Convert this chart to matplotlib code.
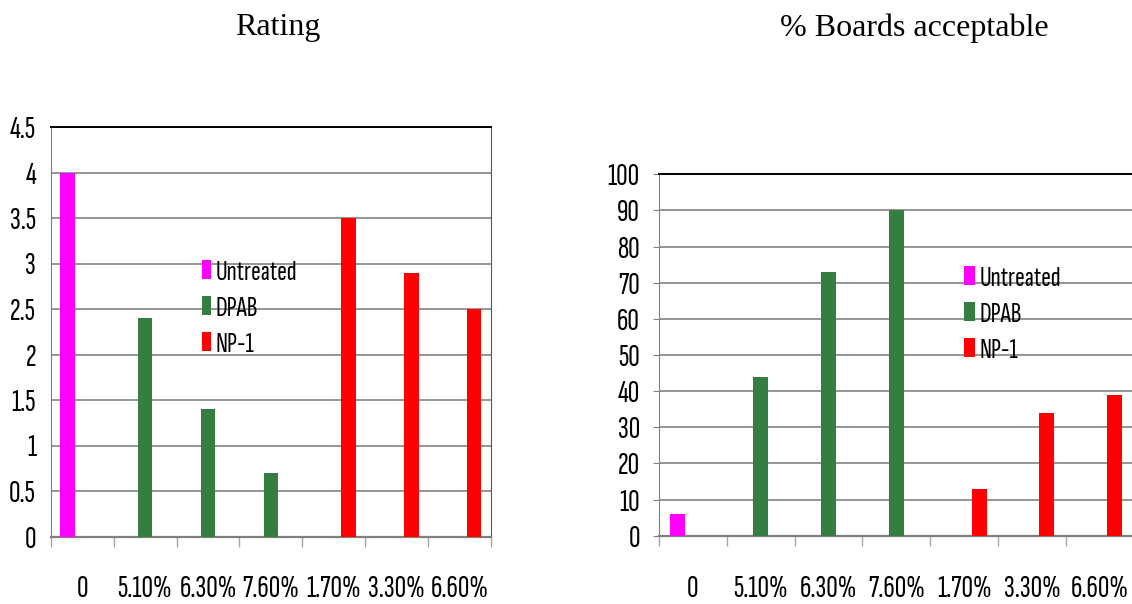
import numpy as np
import matplotlib
matplotlib.use("Agg")
import matplotlib.pyplot as plt
from matplotlib.patches import Patch

# ---- data -------------------------------------------------------------
categories = ["0", "5.10%", "6.30%", "7.60%", "1.70%", "3.30%", "6.60%"]
series_names = ["Untreated", "DPAB", "NP-1"]
series_colors = ["#FF00FF", "#367D42", "#FF0000"]

rating_untreated = [4.0, np.nan, np.nan, np.nan, np.nan, np.nan, np.nan]
rating_dpab = [np.nan, 2.4, 1.4, 0.7, np.nan, np.nan, np.nan]
rating_np1 = [np.nan, np.nan, np.nan, np.nan, 3.5, 2.9, 2.5]

boards_untreated = [6, np.nan, np.nan, np.nan, np.nan, np.nan, np.nan]
boards_dpab = [np.nan, 44, 73, 90, np.nan, np.nan, np.nan]
boards_np1 = [np.nan, np.nan, np.nan, np.nan, 13, 34, 39]

rating_ticks = [0, 0.5, 1, 1.5, 2, 2.5, 3, 3.5, 4, 4.5]
rating_ticklabels = ["0", "0.5", "1", "1.5", "2", "2.5", "3", "3.5", "4", "4.5"]
boards_ticks = list(range(0, 101, 10))
boards_ticklabels = [str(v) for v in boards_ticks]

# ---- style ------------------------------------------------------------
SANS = ["Sofia Sans Extra Condensed", "Archivo Narrow", "Liberation Sans", "DejaVu Sans"]
SERIF = ["Liberation Serif", "DejaVu Serif"]
GRID = "#8C8C8C"
AXIS = "#7F7F7F"

W, H = 1132, 604
fig = plt.figure(figsize=(W / 100, H / 100), dpi=100)
fig.patch.set_facecolor("white")


def draw_panel(rect, series, yticks, yticklabels, ymax, bar_w, ytick_len,
               ylab_pad, legend_anchor, handle_len, show_right):
    ax = fig.add_axes(rect)
    x = np.arange(len(categories))
    for i, (vals, color, name) in enumerate(zip(series, series_colors, series_names)):
        vals = np.asarray(vals, dtype=float)
        m = ~np.isnan(vals)
        ax.bar(x[m] + (i - 1) * bar_w, vals[m], width=bar_w, color=color,
               edgecolor="none", label=name, zorder=3)
    ax.set_xlim(-0.5, len(categories) - 0.5)
    ax.set_ylim(0, ymax)
    ax.set_yticks(yticks)
    ax.set_yticklabels(yticklabels, family=SANS, fontsize=23)
    ax.tick_params(axis="y", length=ytick_len, color=AXIS, pad=ylab_pad)
    ax.set_xticks(x)
    ax.set_xticklabels(categories, family=SANS, fontsize=23)
    ax.set_xticks(np.arange(-0.5, len(categories), 1.0), minor=True)
    ax.tick_params(axis="x", which="major", length=0, pad=28)
    ax.tick_params(axis="x", which="minor", length=7.5, width=1.0, color="#A6A6A6")
    ax.yaxis.grid(True, color=GRID, linewidth=1.3, zorder=0)
    ax.set_axisbelow(True)
    ax.spines["top"].set_color("black")
    ax.spines["top"].set_linewidth(1.4)
    ax.spines["left"].set_color(AXIS)
    ax.spines["bottom"].set_color(AXIS)
    ax.spines["bottom"].set_linewidth(1.6)
    ax.spines["right"].set_color("#595959")
    ax.spines["right"].set_visible(show_right)
    handles = [Patch(facecolor=c, edgecolor="none") for c in series_colors]
    ax.legend(handles, series_names, loc="upper left", bbox_to_anchor=legend_anchor,
              bbox_transform=fig.transFigure, frameon=False,
              prop={"family": SANS, "size": 21}, handlelength=handle_len,
              handleheight=0.6, handletextpad=0.15, labelspacing=0.4,
              borderpad=0, borderaxespad=0)
    return ax


left = draw_panel([50.7 / W, 1 - 536.5 / H, (491 - 50.7) / W, (536.5 - 127) / H],
                  [rating_untreated, rating_dpab, rating_np1],
                  rating_ticks, rating_ticklabels, 4.5, 0.232, 0, 10.5,
                  (201.7 / W, 1 - 260 / H), 0.32, True)
right = draw_panel([659 / W, 1 - 535.7 / H, (1133.6 - 659) / W, (535.7 - 174.3) / H],
                   [boards_untreated, boards_dpab, boards_np1],
                   boards_ticks, boards_ticklabels, 100, 0.222, 4.3, 9.5,
                   (964 / W, 1 - 266 / H), 0.38, False)

fig.text(278 / W, 1 - 28 / H, "Rating", family=SERIF, fontsize=23,
         ha="center", va="center")
fig.text(914.5 / W, 1 - 28 / H, "% Boards acceptable", family=SERIF, fontsize=23,
         ha="center", va="center")

fig.savefig("out.png", dpi=100, facecolor="white")
